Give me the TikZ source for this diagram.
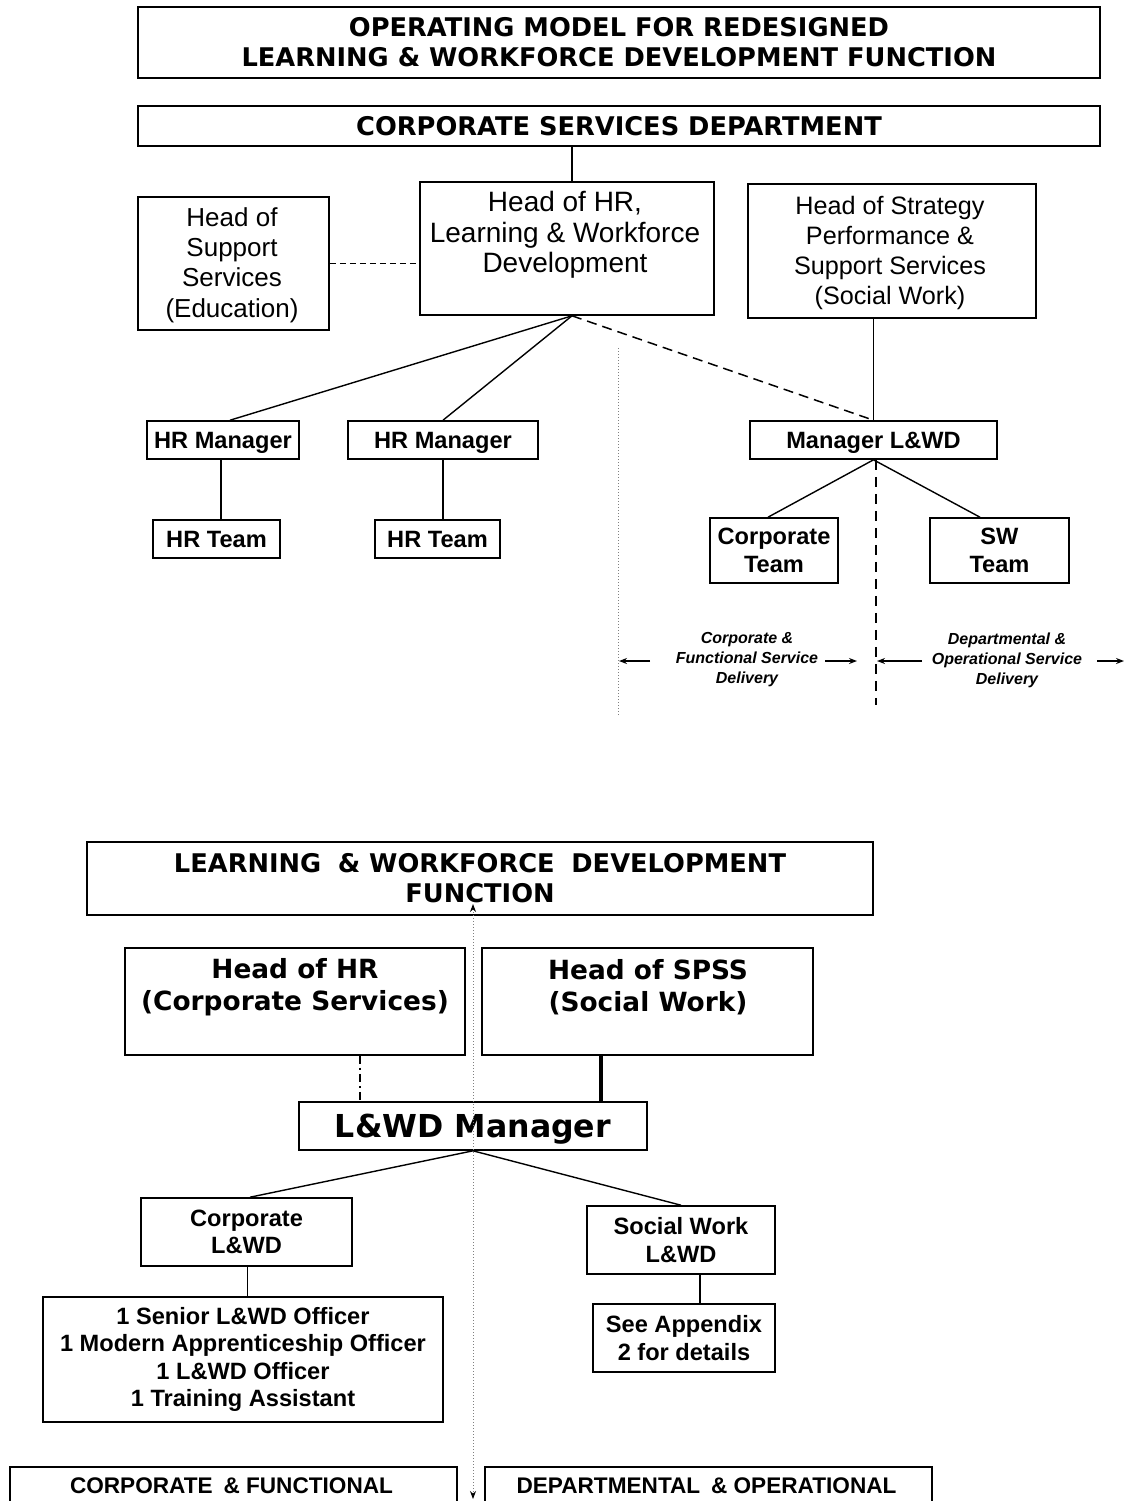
\documentclass[tikz,border=0pt]{standalone}
\usepackage{fontspec}
\setmainfont{Liberation Sans}
\newfontfamily\dvsfam{DejaVu Sans}
\usetikzlibrary{arrows.meta,calc}
\newcommand\fnTitle{\dvsfam\bfseries\fontsize{12.85}{15}\selectfont}
\newcommand\fnHead{\dvsfam\bfseries\fontsize{13.2}{16}\selectfont}
\newcommand\fnBig{\dvsfam\bfseries\fontsize{15.8}{18}\selectfont}
\newcommand\fnRegA{\fontsize{13}{15.2}\selectfont}
\newcommand\fnRegB{\fontsize{14}{15.3}\selectfont}
\newcommand\fnRegC{\fontsize{12.6}{15}\selectfont}
\newcommand\fnBold{\bfseries\fontsize{11.8}{13.8}\selectfont}
\newcommand\fnSmall{\bfseries\itshape\fontsize{8}{10}\selectfont}
\newcommand\fnFoot{\bfseries\fontsize{11.3}{13}\selectfont}
\tikzset{
 box/.style={draw=black,line width=0.8pt,inner sep=0pt,align=center},
 wh/.style 2 args={minimum width={#1*0.5pt},minimum height={#2*0.5pt}},
 txt/.style={inner sep=0pt,align=center},
 link/.style={line width=0.7pt},
 thicklink/.style={line width=1.6pt},
 dashlink/.style={line width=0.75pt,dash pattern=on 5pt off 3pt},
 shortdash/.style={line width=0.7pt,dash pattern=on 3pt off 2pt},
 divider/.style={line width=0.8pt,dash pattern=on 5pt off 3.5pt},
 dashdot/.style={line width=0.6pt,dash pattern=on 4pt off 2pt on 1pt off 2pt},
 guide/.style={gray,line width=0.5pt,dash pattern=on 0.5pt off 1pt},
 arr/.style={line width=0.7pt,-{Stealth[length=4pt,width=3pt]}},
 guidearr/.style={{Stealth[length=4pt,width=3pt,color=black]}-{Stealth[length=4pt,width=3pt,color=black]}},
}
\begin{document}
\begin{tikzpicture}[x=0.5pt,y=-0.5pt]
\clip (0,0) rectangle (1125,1501);
\fill[white] (0,0) rectangle (1125,1501);
% ---------- upper chart ----------
\node[box,wh={962}{71},font=\fnTitle] (title) at (619,42.5) {OPERATING MODEL FOR REDESIGNED\\LEARNING \& WORKFORCE DEVELOPMENT FUNCTION};
\node[box,wh={962}{40},font=\fnTitle] (csd) at (619,126) {CORPORATE SERVICES DEPARTMENT};
\node[box,wh={191}{133}] (hoss) at (233.5,263.5) {};
\node[txt,font=\fnRegA] (hosst) at (232,265) {Head of\\Support\\Services\\(Education)};
\node[box,wh={294}{133}] (hohr) at (567,248.5) {};
\node[txt,font=\fnRegB] (hohrt) at (565,235) {Head of HR,\\Learning \& Workforce\\Development};
\node[box,wh={288}{134}] (strat) at (892,251) {};
\node[txt,font=\fnRegC] (stratt) at (890,253) {Head of Strategy\\Performance \&\\Support Services\\(Social Work)};
\node[box,wh={152}{38},font=\fnBold,text depth=0pt] (hrm1) at (223,440) {HR Manager};
\node[box,wh={190}{38},font=\fnBold,text depth=0pt] (hrm2) at (443,440) {HR Manager};
\node[box,wh={127}{38},font=\fnBold] (hrt1) at (216.5,539) {HR Team};
\node[box,wh={125}{38},font=\fnBold] (hrt2) at (437.5,539) {HR Team};
\node[box,wh={247}{38},font=\fnBold,text depth=0pt] (mgr) at (873.5,440) {Manager L\&WD};
\node[box,wh={128}{65},font=\fnBold] (ct) at (774,550.5) {Corporate\\Team};
\node[box,wh={139}{65},font=\fnBold] (swt) at (999.5,550.5) {SW\\Team};
\node[txt,font=\fnSmall] (cfd) at (747,660) {Corporate \&\\Functional Service\\Delivery};
\node[txt,font=\fnSmall] (dod) at (1007,660) {Departmental \&\\Operational Service\\Delivery};
\coordinate (hb) at ([xshift=2.5pt]hohr.south);
\coordinate (divEnd) at (876,705);
\coordinate (gA) at (618,348);
\coordinate (gB) at (618,715);
\coordinate (a1s) at (650,661);
\coordinate (a1e) at (619,661);
\coordinate (a2s) at (825,661);
\coordinate (a2e) at (857,661);
\coordinate (a3s) at (922,661);
\coordinate (a3e) at (877,661);
\coordinate (a4s) at (1097,661);
\coordinate (a4e) at (1124,661);
\draw[link] ([xshift=2.5pt]hohr.north) -- ([xshift=2.5pt]hohr.north |- csd.south);
\draw[shortdash] (hoss.east) -- (hoss.east -| hohr.west);
\draw[link] (hb) -- ([xshift=3.5pt]hrm1.north);
\draw[link] (hb) -- (hrm2.north);
\draw[dashlink] (hb) -- (mgr.north);
\draw[link] (mgr.north |- strat.south) -- (mgr.north);
\draw[link] ([xshift=-1pt]hrm1.south) -- ([xshift=-1pt]hrm1.south |- hrt1.north);
\draw[link] (hrm2.south) -- (hrm2.south |- hrt2.north);
\draw[link] (mgr.south) -- ([xshift=-3pt]ct.north);
\draw[link] (mgr.south) -- ([xshift=-9.75pt]swt.north);
\draw[divider] (mgr.south -| divEnd) -- (divEnd);
\draw[guide] (gA) -- (gB);
\draw[arr] (a1s) -- (a1e);
\draw[arr] (a2s) -- (a2e);
\draw[arr] (a3s) -- (a3e);
\draw[arr] (a4s) -- (a4e);
% ---------- lower chart ----------
\node[box,wh={786}{73},font=\fnTitle] (bt) at (480,878.5) {LEARNING\hspace{0.3em} \& WORKFORCE\hspace{0.3em} DEVELOPMENT\\FUNCTION};
\node[box,wh={340}{107}] (hhr) at (295,1001.5) {};
\node[txt,font=\fnHead] (hhrt) at (295,987) {Head of HR\\(Corporate Services)};
\node[box,wh={331}{107}] (hsp) at (647.5,1001.5) {};
\node[txt,font=\fnHead] (hspt) at (648,987) {Head of SPSS\\(Social Work)};
\node[box,wh={348}{48},font=\fnBig,text depth=0pt] (lm) at (473,1126) {L\&WD Manager};
\node[box,wh={211}{68},font=\fnBold] (cl) at (246.5,1232) {Corporate\\L\&WD};
\node[box,wh={400}{125},font=\fnBold] (off) at (243,1359.5) {1 Senior L\&WD Officer\\1 Modern Apprenticeship Officer\\1 L\&WD Officer\\1 Training Assistant};
\node[box,wh={188}{68},font=\fnBold] (sw) at (681,1240) {Social Work\\L\&WD};
\node[box,wh={182}{68},font=\fnBold] (sa) at (684,1338) {See Appendix\\2 for details};
\node[box,wh={447}{63}] (cf) at (233.5,1498.5) {};
\node[txt,font=\fnFoot] (cft) at (231.5,1486) {CORPORATE\hspace{0.2em} \& FUNCTIONAL};
\node[box,wh={447}{63}] (dp) at (708.5,1498.5) {};
\node[txt,font=\fnFoot] (dpt) at (706.5,1486) {DEPARTMENTAL\hspace{0.2em} \& OPERATIONAL};
\coordinate (dd) at (360,1102);
\coordinate (tk) at (601,1102);
\coordinate (swc) at (700,1274);
\coordinate (gTop) at (473,904);
\coordinate (gBot) at (473,1499);
\draw[dashdot] (dd |- hhr.south) -- (dd);
\draw[thicklink] (tk |- hsp.south) -- (tk);
\draw[link] (lm.south) -- ([xshift=1.75pt]cl.north);
\draw[link] (lm.south) -- (sw.north);
\draw[link] ([xshift=0.5pt]cl.south) -- ([xshift=0.5pt]cl.south |- off.north);
\draw[link] (swc) -- (swc |- sa.north);
\draw[guide,guidearr] (gTop) -- (gBot);
\end{tikzpicture}
\end{document}
